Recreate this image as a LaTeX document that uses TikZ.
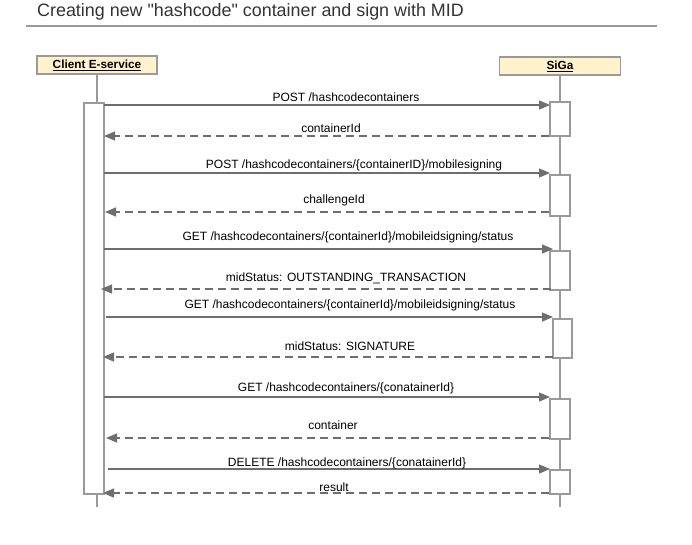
\documentclass[tikz,border=0pt]{standalone}
\usepackage{fontspec}
\setmainfont{Liberation Sans}
\usetikzlibrary{arrows.meta}
\definecolor{linegray}{HTML}{9A9A9A}
\definecolor{arrgray}{HTML}{6E6E6E}
\definecolor{boxfill}{HTML}{FFF2CC}
\definecolor{titlegray}{HTML}{333333}
\newcommand{\straightquote}{\XeTeXglyph\XeTeXcharglyph"22\relax}
\begin{document}
\begin{tikzpicture}[x=1pt,y=-1pt,
  participant/.style={draw=linegray,line width=1.2pt,fill=boxfill,minimum height=18pt,inner sep=0pt,font=\fontsize{11.8}{13}\selectfont\bfseries},
  lifeline/.style={draw=linegray,line width=1.2pt},
  actbox/.style={draw=linegray,line width=1.2pt,fill=white},
  msg/.style={draw=arrgray,line width=1.2pt,-{Triangle[length=11pt,width=9pt]}},
  reply/.style={msg,dash pattern=on 8pt off 5pt},
  lbl/.style={font=\fontsize{12}{14}\selectfont,text=black,inner sep=0pt}]
\useasboundingbox (0,0) rectangle (692,544);
% title
\node[anchor=west,text=titlegray,font=\fontsize{17.9}{20}\selectfont,inner sep=0pt] (title) at (37,12) {Creating new \straightquote hashcode\straightquote{} container and sign with MID};
\draw[draw=linegray,line width=1.2pt] (26,26) coordinate (rl) -- (657,26) coordinate (rr);
% participants
\node[participant,minimum width=120pt] (client) at (97,65) {\underline{Client E-service}};
\node[participant,minimum width=121pt] (siga) at (560,66) {\underline{SiGa}};
\coordinate (cend) at (97,507);
\coordinate (send) at (560,507);
\draw[lifeline] (client.south) -- (cend);
\draw[lifeline] (siga.south) -- (send);
% activations
\draw[actbox] (84,103) rectangle (104,494);
\draw[actbox] (550,102) rectangle (570,136);
\draw[actbox] (550,175) rectangle (570,216);
\draw[actbox] (550,251) rectangle (570,290);
\draw[actbox] (553,319) rectangle (572,358);
\draw[actbox] (550,399) rectangle (570,439);
\draw[actbox] (550,470) rectangle (570,494);
% endpoints
\coordinate (a1) at (104,105); \coordinate (b1) at (550,105);
\coordinate (a2) at (104,136); \coordinate (b2) at (549,136);
\coordinate (a3) at (104,173); \coordinate (b3) at (550,173);
\coordinate (a4) at (105,212); \coordinate (b4) at (549,212);
\coordinate (a5) at (104,249); \coordinate (b5) at (553,249);
\coordinate (a6) at (101,289); \coordinate (b6) at (551,289);
\coordinate (a7) at (106,317); \coordinate (b7) at (553,317);
\coordinate (a8) at (103,357); \coordinate (b8) at (553,357);
\coordinate (a9) at (104,397); \coordinate (b9) at (550,397);
\coordinate (a10) at (106,438); \coordinate (b10) at (549,438);
\coordinate (a11) at (108,469); \coordinate (b11) at (550,469);
\coordinate (a12) at (103,493); \coordinate (b12) at (549,493);
\draw[msg] (a1) -- (b1);
\draw[reply] (b2) -- (a2);
\draw[msg] (a3) -- (b3);
\draw[reply] (b4) -- (a4);
\draw[msg] (a5) -- (b5);
\draw[reply] (b6) -- (a6);
\draw[msg] (a7) -- (b7);
\draw[reply] (b8) -- (a8);
\draw[msg] (a9) -- (b9);
\draw[reply] (b10) -- (a10);
\draw[msg] (a11) -- (b11);
\draw[reply] (b12) -- (a12);
% labels
\node[lbl] (l1) at (346,97) {POST /hashcodecontainers};
\node[lbl] (l2) at (331,128) {containerId};
\node[lbl] (l3) at (354,165) {POST /hashcodecontainers/\{containerID\}/mobilesigning};
\node[lbl] (l4) at (334,200) {challengeId};
\node[lbl] (l5) at (348,237) {GET /hashcodecontainers/\{containerId\}/mobileidsigning/status};
\node[lbl] (l6) at (346,278) {midStatus: OUTSTANDING\_TRANSACTION};
\node[lbl] (l7) at (350,305) {GET /hashcodecontainers/\{containerId\}/mobileidsigning/status};
\node[lbl] (l8) at (350,346) {midStatus: SIGNATURE};
\node[lbl] (l9) at (346,388) {GET /hashcodecontainers/\{conatainerId\}};
\node[lbl] (l10) at (333,425) {container};
\node[lbl] (l11) at (347,463) {DELETE /hashcodecontainers/\{conatainerId\}};
\node[lbl] (l12) at (334,487) {result};
\end{tikzpicture}
\end{document}
